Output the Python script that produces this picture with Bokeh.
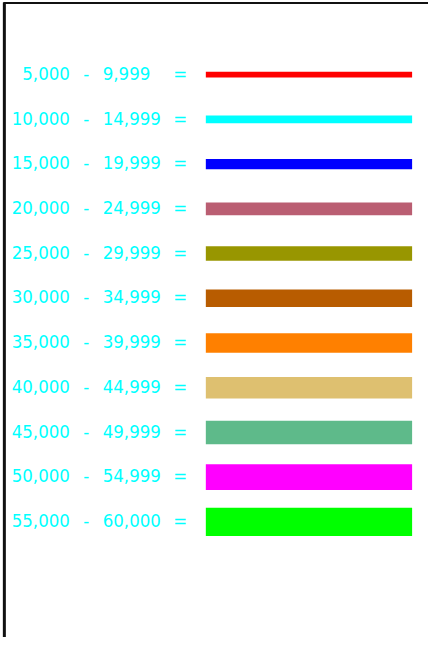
from bokeh.plotting import figure
from bokeh.models import Range1d, ColumnDataSource
from bokeh.core.properties import value
from bokeh.embed import file_html
from bokeh.resources import INLINE

# ---- data ----
range_low = ["5,000", "10,000", "15,000", "20,000", "25,000", "30,000",
             "35,000", "40,000", "45,000", "50,000", "55,000"]
range_high = ["9,999", "14,999", "19,999", "24,999", "29,999", "34,999",
              "39,999", "44,999", "49,999", "54,999", "60,000"]
line_colors = ["#FF0000", "#00FFFF", "#0000FF", "#BA5E72", "#989600", "#B85C00",
               "#FF8000", "#DEC070", "#5EBA8A", "#FF00FF", "#00FF00"]
line_weights = [6, 8, 10.5, 13, 15, 18, 20, 22, 24, 26.5, 29]

# ---- layout ----
W, H = 428, 637          # figure size (fits the 444x653 window with 8px margin)
RW, RH = 444, 653        # drawing coordinate frame
n = len(range_low)
first_y, step = 76.0, 45.85
ys = [first_y + i * step for i in range(n)]

p = figure(width=W, height=H, output_backend="svg", toolbar_location=None,
           x_range=Range1d(0, RW), y_range=Range1d(RH, 0),
           min_border=0, background_fill_color="white", border_fill_color="white")
p.axis.visible = False
p.grid.visible = False
p.outline_line_color = None

src = ColumnDataSource(dict(y=ys, lo=range_low, hi=range_high,
                            color=line_colors, w=line_weights,
                            dash=["-"] * n, eq=["="] * n))

# frame lines (left and top)
p.segment(x0=[4, 3], y0=[2, 2.5], x1=[4, RW], y1=[RH, 2.5],
          line_color="#111111", line_width=[3, 2])

# legend lines
p.hbar(y="y", height="w", left=213, right=427, fill_color="color",
       line_color=None, source=src)

font = value("DejaVu Sans Condensed")
common = dict(text_color="#00FFFF", text_font=font, text_font_size="18.5px",
              text_baseline="alphabetic", y_offset=-1.3, source=src)
p.text(x=72, y="y", text="lo", text_align="right", **common)
p.text(x=89, y="y", text="dash", text_align="center", **common)
p.text(x=106, y="y", text="hi", text_align="left", **common)
p.text(x=186.5, y="y", text="eq", text_align="center", **common)

open("out.html", "w").write(file_html(p, INLINE))
